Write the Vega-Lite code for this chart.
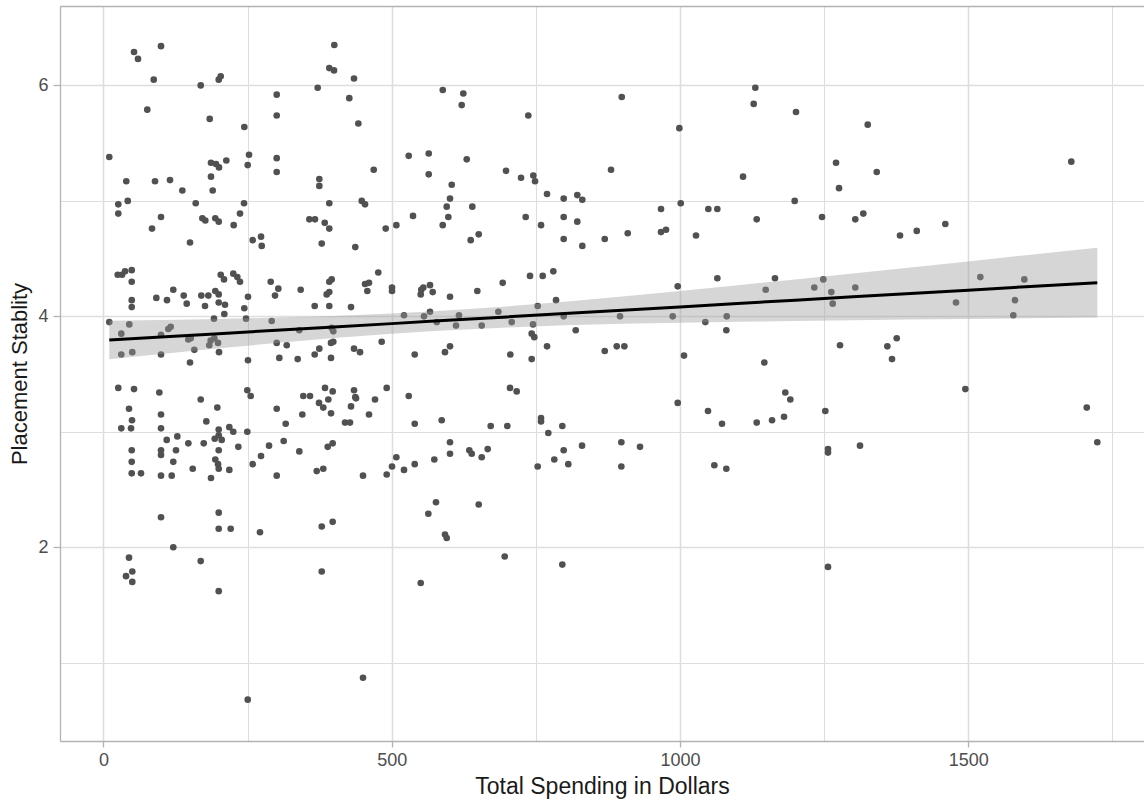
{
  "$schema": "https://vega.github.io/schema/vega-lite/v6.json",
  "width": 1084,
  "height": 735,
  "autosize": {"type": "none"},
  "padding": {"left": 60, "top": 6, "right": 0, "bottom": 65},
  "background": "white",
  "config": {
    "view": {"stroke": null},
    "font": "Liberation Sans"
  },
  "resolve": {"axis": {"x": "independent"}},
  "datasets": {
    "pts": [
      {"spending":53.1,"stability":6.29},{"spending":60.0,"stability":6.23},{"spending":99.9,"stability":6.34},{"spending":87.3,"stability":6.05},{"spending":168.8,"stability":6.00},{"spending":200.0,"stability":6.05},{"spending":203.5,"stability":6.08},{"spending":76.1,"stability":5.79},{"spending":184.4,"stability":5.71},{"spending":244.4,"stability":5.64},{"spending":10.2,"stability":5.38},{"spending":39.7,"stability":5.17},{"spending":89.5,"stability":5.17},{"spending":115.5,"stability":5.18},{"spending":136.9,"stability":5.09},{"spending":186.6,"stability":5.33},{"spending":195.3,"stability":5.32},{"spending":200.5,"stability":5.29},{"spending":213.2,"stability":5.35},{"spending":186.6,"stability":5.21},{"spending":189.6,"stability":5.09},{"spending":252.6,"stability":5.40},{"spending":250.3,"stability":5.31},{"spending":25.8,"stability":4.97},{"spending":25.8,"stability":4.89},{"spending":42.2,"stability":5.00},{"spending":99.9,"stability":4.86},{"spending":84.3,"stability":4.76},{"spending":160.1,"stability":4.98},{"spending":171.6,"stability":4.85},{"spending":176.8,"stability":4.83},{"spending":194.1,"stability":4.85},{"spending":200.0,"stability":4.82},{"spending":226.0,"stability":4.79},{"spending":236.9,"stability":4.89},{"spending":243.9,"stability":4.98},{"spending":150.2,"stability":4.64},{"spending":24.8,"stability":4.36},{"spending":32.3,"stability":4.36},{"spending":37.5,"stability":4.39},{"spending":49.1,"stability":4.40},{"spending":49.1,"stability":4.30},{"spending":203.5,"stability":4.36},{"spending":209.2,"stability":4.32},{"spending":225.3,"stability":4.37},{"spending":232.3,"stability":4.34},{"spending":236.9,"stability":4.30},{"spending":250.8,"stability":4.17},{"spending":49.1,"stability":4.14},{"spending":49.1,"stability":4.08},{"spending":91.8,"stability":4.16},{"spending":110.3,"stability":4.14},{"spending":121.2,"stability":4.23},{"spending":139.3,"stability":4.18},{"spending":144.5,"stability":4.11},{"spending":169.8,"stability":4.18},{"spending":182.0,"stability":4.18},{"spending":176.2,"stability":4.09},{"spending":194.1,"stability":4.22},{"spending":200.0,"stability":4.19},{"spending":200.0,"stability":4.12},{"spending":210.9,"stability":4.10},{"spending":209.7,"stability":4.02},{"spending":191.8,"stability":3.98},{"spending":244.4,"stability":4.07},{"spending":247.4,"stability":3.98},{"spending":10.2,"stability":3.95},{"spending":44.9,"stability":3.93},{"spending":31.0,"stability":3.85},{"spending":99.9,"stability":3.84},{"spending":112.6,"stability":3.89},{"spending":116.7,"stability":3.91},{"spending":147.3,"stability":3.80},{"spending":151.4,"stability":3.81},{"spending":186.1,"stability":3.79},{"spending":192.4,"stability":3.81},{"spending":198.8,"stability":3.77},{"spending":183.7,"stability":3.75},{"spending":31.0,"stability":3.67},{"spending":50.1,"stability":3.69},{"spending":99.9,"stability":3.67},{"spending":157.7,"stability":3.71},{"spending":200.5,"stability":3.69},{"spending":150.2,"stability":3.60},{"spending":250.8,"stability":3.62},
      {"spending":25.8,"stability":3.38},{"spending":53.1,"stability":3.37},{"spending":97.0,"stability":3.34},{"spending":168.8,"stability":3.28},{"spending":197.6,"stability":3.21},{"spending":249.6,"stability":3.36},{"spending":255.5,"stability":3.31},{"spending":44.4,"stability":3.20},{"spending":49.6,"stability":3.10},{"spending":47.9,"stability":3.03},{"spending":31.0,"stability":3.03},{"spending":99.9,"stability":3.15},{"spending":99.9,"stability":3.03},{"spending":178.5,"stability":3.09},{"spending":109.8,"stability":2.93},{"spending":128.2,"stability":2.96},{"spending":147.3,"stability":2.90},{"spending":174.0,"stability":2.90},{"spending":200.0,"stability":3.02},{"spending":200.0,"stability":2.97},{"spending":193.1,"stability":2.94},{"spending":205.2,"stability":2.93},{"spending":200.0,"stability":2.84},{"spending":194.1,"stability":2.76},{"spending":198.8,"stability":2.72},{"spending":200.0,"stability":2.68},{"spending":218.4,"stability":3.04},{"spending":225.3,"stability":3.00},{"spending":249.6,"stability":3.00},{"spending":234.0,"stability":2.87},{"spending":218.4,"stability":2.67},{"spending":49.1,"stability":2.84},{"spending":49.1,"stability":2.74},{"spending":49.1,"stability":2.64},{"spending":65.2,"stability":2.64},{"spending":99.9,"stability":2.84},{"spending":99.9,"stability":2.80},{"spending":125.9,"stability":2.84},{"spending":121.2,"stability":2.74},{"spending":99.9,"stability":2.62},{"spending":118.5,"stability":2.62},{"spending":154.9,"stability":2.68},{"spending":186.6,"stability":2.60},{"spending":259.0,"stability":2.72},{"spending":99.9,"stability":2.26},{"spending":200.0,"stability":2.30},{"spending":200.0,"stability":2.16},{"spending":220.8,"stability":2.16},{"spending":121.2,"stability":2.00},{"spending":44.4,"stability":1.91},{"spending":50.1,"stability":1.79},{"spending":39.2,"stability":1.75},{"spending":50.1,"stability":1.70},{"spending":168.8,"stability":1.88},{"spending":200.0,"stability":1.62},{"spending":250.3,"stability":0.68},
      {"spending":400.5,"stability":6.35},{"spending":391.8,"stability":6.15},{"spending":400.0,"stability":6.13},{"spending":434.7,"stability":6.06},{"spending":371.7,"stability":5.98},{"spending":300.6,"stability":5.92},{"spending":426.5,"stability":5.89},{"spending":300.6,"stability":5.74},{"spending":442.2,"stability":5.67},{"spending":300.6,"stability":5.37},{"spending":300.6,"stability":5.25},{"spending":529.6,"stability":5.39},{"spending":564.3,"stability":5.41},{"spending":564.3,"stability":5.23},{"spending":468.9,"stability":5.27},{"spending":374.5,"stability":5.19},{"spending":374.5,"stability":5.13},{"spending":391.8,"stability":4.98},{"spending":448.1,"stability":5.00},{"spending":453.8,"stability":4.97},{"spending":357.2,"stability":4.84},{"spending":367.0,"stability":4.84},{"spending":383.9,"stability":4.81},{"spending":391.8,"stability":4.76},{"spending":378.7,"stability":4.63},{"spending":436.9,"stability":4.60},{"spending":489.7,"stability":4.76},{"spending":508.1,"stability":4.79},{"spending":537.0,"stability":4.87},{"spending":259.0,"stability":4.66},{"spending":273.4,"stability":4.69},{"spending":274.6,"stability":4.61},{"spending":476.8,"stability":4.38},{"spending":290.2,"stability":4.30},{"spending":303.4,"stability":4.24},{"spending":297.7,"stability":4.18},{"spending":342.2,"stability":4.23},{"spending":391.8,"stability":4.30},{"spending":396.0,"stability":4.32},{"spending":391.8,"stability":4.21},{"spending":387.3,"stability":4.19},{"spending":366.5,"stability":4.09},{"spending":391.8,"stability":4.09},{"spending":429.5,"stability":4.08},{"spending":453.8,"stability":4.28},{"spending":460.7,"stability":4.29},{"spending":457.8,"stability":4.22},{"spending":500.6,"stability":4.25},{"spending":500.6,"stability":4.22},{"spending":551.4,"stability":4.23},{"spending":554.9,"stability":4.25},{"spending":566.5,"stability":4.27},{"spending":571.2,"stability":4.21},{"spending":550.4,"stability":4.19},{"spending":291.9,"stability":3.96},{"spending":339.8,"stability":3.88},{"spending":396.0,"stability":3.90},{"spending":398.8,"stability":3.87},{"spending":521.4,"stability":4.01},{"spending":556.1,"stability":4.00},{"spending":566.5,"stability":4.04},{"spending":578.2,"stability":3.95},{"spending":300.6,"stability":3.77},{"spending":318.0,"stability":3.75},{"spending":398.8,"stability":3.78},{"spending":394.8,"stability":3.77},{"spending":374.5,"stability":3.72},{"spending":366.5,"stability":3.67},{"spending":434.7,"stability":3.72},{"spending":445.1,"stability":3.69},{"spending":482.7,"stability":3.78},{"spending":305.1,"stability":3.64},{"spending":337.0,"stability":3.63},{"spending":394.8,"stability":3.64},{"spending":540.0,"stability":3.67},
      {"spending":384.4,"stability":3.38},{"spending":397.7,"stability":3.35},{"spending":346.7,"stability":3.31},{"spending":358.4,"stability":3.31},{"spending":374.0,"stability":3.25},{"spending":381.4,"stability":3.21},{"spending":390.1,"stability":3.28},{"spending":394.8,"stability":3.16},{"spending":345.0,"stability":3.15},{"spending":300.6,"stability":3.20},{"spending":316.2,"stability":3.07},{"spending":434.7,"stability":3.36},{"spending":436.9,"stability":3.30},{"spending":438.2,"stability":3.29},{"spending":429.5,"stability":3.22},{"spending":419.1,"stability":3.08},{"spending":427.7,"stability":3.08},{"spending":460.7,"stability":3.15},{"spending":471.1,"stability":3.28},{"spending":491.4,"stability":3.38},{"spending":529.6,"stability":3.31},{"spending":540.0,"stability":3.07},{"spending":287.3,"stability":2.88},{"spending":273.4,"stability":2.79},{"spending":312.7,"stability":2.92},{"spending":339.8,"stability":2.83},{"spending":389.1,"stability":2.87},{"spending":397.7,"stability":2.90},{"spending":300.6,"stability":2.62},{"spending":370.0,"stability":2.66},{"spending":381.4,"stability":2.68},{"spending":450.3,"stability":2.62},{"spending":491.4,"stability":2.63},{"spending":500.6,"stability":2.70},{"spending":508.1,"stability":2.78},{"spending":521.4,"stability":2.67},{"spending":540.0,"stability":2.72},{"spending":574.0,"stability":2.76},{"spending":576.9,"stability":2.39},{"spending":563.6,"stability":2.29},{"spending":271.6,"stability":2.13},{"spending":378.7,"stability":2.18},{"spending":397.7,"stability":2.22},{"spending":378.7,"stability":1.79},{"spending":550.4,"stability":1.69},{"spending":450.3,"stability":0.87},
      {"spending":588.6,"stability":5.96},{"spending":624.3,"stability":5.93},{"spending":621.5,"stability":5.83},{"spending":737.0,"stability":5.74},{"spending":899.1,"stability":5.90},{"spending":630.2,"stability":5.36},{"spending":698.4,"stability":5.26},{"spending":724.4,"stability":5.20},{"spending":745.7,"stability":5.22},{"spending":748.7,"stability":5.17},{"spending":880.5,"stability":5.27},{"spending":604.2,"stability":5.14},{"spending":601.2,"stability":5.02},{"spending":595.5,"stability":4.95},{"spending":598.3,"stability":4.86},{"spending":588.6,"stability":4.79},{"spending":639.9,"stability":4.95},{"spending":637.1,"stability":4.66},{"spending":651.0,"stability":4.71},{"spending":732.5,"stability":4.86},{"spending":759.1,"stability":4.79},{"spending":769.5,"stability":5.06},{"spending":798.4,"stability":5.02},{"spending":822.0,"stability":5.05},{"spending":830.7,"stability":5.01},{"spending":798.4,"stability":4.86},{"spending":822.0,"stability":4.82},{"spending":798.4,"stability":4.67},{"spending":830.7,"stability":4.61},{"spending":869.6,"stability":4.67},{"spending":909.5,"stability":4.72},{"spending":601.2,"stability":4.17},{"spending":648.6,"stability":4.22},{"spending":692.6,"stability":4.29},{"spending":740.0,"stability":4.35},{"spending":762.0,"stability":4.35},{"spending":780.4,"stability":4.39},{"spending":785.1,"stability":4.14},{"spending":753.3,"stability":4.09},{"spending":616.8,"stability":4.01},{"spending":611.6,"stability":3.92},{"spending":656.2,"stability":3.92},{"spending":685.0,"stability":4.04},{"spending":708.2,"stability":3.95},{"spending":745.2,"stability":3.93},{"spending":798.4,"stability":4.00},{"spending":896.1,"stability":4.00},{"spending":819.3,"stability":3.88},{"spending":742.9,"stability":3.85},{"spending":747.4,"stability":3.82},{"spending":592.5,"stability":3.69},{"spending":601.2,"stability":3.74},{"spending":705.8,"stability":3.67},{"spending":769.5,"stability":3.74},{"spending":742.9,"stability":3.63},{"spending":869.6,"stability":3.70},{"spending":890.4,"stability":3.74},{"spending":903.6,"stability":3.74},
      {"spending":705.3,"stability":3.38},{"spending":716.9,"stability":3.35},{"spending":586.8,"stability":3.10},{"spending":671.8,"stability":3.05},{"spending":700.6,"stability":3.05},{"spending":759.1,"stability":3.12},{"spending":759.1,"stability":3.09},{"spending":796.0,"stability":3.05},{"spending":771.7,"stability":2.99},{"spending":601.2,"stability":2.91},{"spending":601.2,"stability":2.81},{"spending":634.7,"stability":2.84},{"spending":638.9,"stability":2.81},{"spending":666.6,"stability":2.85},{"spending":656.2,"stability":2.78},{"spending":753.3,"stability":2.70},{"spending":782.1,"stability":2.76},{"spending":798.4,"stability":2.84},{"spending":806.4,"stability":2.72},{"spending":830.2,"stability":2.88},{"spending":898.4,"stability":2.91},{"spending":898.4,"stability":2.70},{"spending":651.0,"stability":2.37},{"spending":592.5,"stability":2.11},{"spending":595.5,"stability":2.08},{"spending":696.1,"stability":1.92},{"spending":796.0,"stability":1.85},
      {"spending":1130.8,"stability":5.98},{"spending":1128.0,"stability":5.84},{"spending":999.0,"stability":5.63},{"spending":1201.4,"stability":5.77},{"spending":1325.8,"stability":5.66},{"spending":1270.8,"stability":5.33},{"spending":1276.0,"stability":5.11},{"spending":1341.4,"stability":5.25},{"spending":1109.5,"stability":5.21},{"spending":967.2,"stability":4.93},{"spending":1001.4,"stability":4.98},{"spending":1049.3,"stability":4.93},{"spending":1064.9,"stability":4.93},{"spending":967.2,"stability":4.73},{"spending":975.9,"stability":4.75},{"spending":1027.9,"stability":4.70},{"spending":1133.2,"stability":4.84},{"spending":1199.1,"stability":5.00},{"spending":1246.5,"stability":4.86},{"spending":1304.2,"stability":4.84},{"spending":1318.1,"stability":4.89},{"spending":996.2,"stability":4.26},{"spending":1064.9,"stability":4.33},{"spending":1148.8,"stability":4.23},{"spending":1164.9,"stability":4.33},{"spending":1233.1,"stability":4.25},{"spending":1248.7,"stability":4.32},{"spending":1262.6,"stability":4.21},{"spending":1265.0,"stability":4.11},{"spending":1304.2,"stability":4.25},{"spending":987.5,"stability":4.00},{"spending":1044.1,"stability":3.95},{"spending":1081.2,"stability":4.00},{"spending":1080.5,"stability":3.88},{"spending":1007.1,"stability":3.66},{"spending":1146.4,"stability":3.60},{"spending":1277.7,"stability":3.75},
      {"spending":996.2,"stability":3.25},{"spending":1048.7,"stability":3.18},{"spending":1073.0,"stability":3.07},{"spending":1133.2,"stability":3.08},{"spending":1159.8,"stability":3.10},{"spending":1180.6,"stability":3.13},{"spending":1182.8,"stability":3.34},{"spending":1191.5,"stability":3.28},{"spending":1252.2,"stability":3.18},{"spending":930.8,"stability":2.87},{"spending":1059.7,"stability":2.71},{"spending":1080.5,"stability":2.68},{"spending":1256.9,"stability":2.85},{"spending":1256.9,"stability":2.82},{"spending":1312.4,"stability":2.88},{"spending":1256.9,"stability":1.83},
      {"spending":1678.9,"stability":5.34},{"spending":1381.8,"stability":4.70},{"spending":1410.8,"stability":4.74},{"spending":1460.4,"stability":4.80},{"spending":1521.1,"stability":4.34},{"spending":1597.4,"stability":4.32},{"spending":1478.9,"stability":4.12},{"spending":1581.3,"stability":4.14},{"spending":1578.3,"stability":4.01},{"spending":1376.1,"stability":3.81},{"spending":1359.8,"stability":3.74},{"spending":1367.9,"stability":3.63},
      {"spending":1495.1,"stability":3.37},{"spending":1705.7,"stability":3.21},{"spending":1724.0,"stability":2.91}
    ],
    "fit": [
      {"spending":10.2,"fit":3.795,"lower":3.629,"upper":3.961},
      {"spending":100,"fit":3.821,"lower":3.674,"upper":3.968},
      {"spending":200,"fit":3.850,"lower":3.723,"upper":3.977},
      {"spending":300,"fit":3.879,"lower":3.769,"upper":3.989},
      {"spending":400,"fit":3.908,"lower":3.812,"upper":4.004},
      {"spending":500,"fit":3.937,"lower":3.850,"upper":4.024},
      {"spending":574,"fit":3.959,"lower":3.874,"upper":4.044},
      {"spending":700,"fit":3.995,"lower":3.904,"upper":4.086},
      {"spending":800,"fit":4.024,"lower":3.922,"upper":4.126},
      {"spending":900,"fit":4.053,"lower":3.935,"upper":4.171},
      {"spending":1000,"fit":4.082,"lower":3.945,"upper":4.219},
      {"spending":1100,"fit":4.111,"lower":3.953,"upper":4.269},
      {"spending":1200,"fit":4.140,"lower":3.960,"upper":4.320},
      {"spending":1300,"fit":4.169,"lower":3.967,"upper":4.371},
      {"spending":1400,"fit":4.198,"lower":3.973,"upper":4.424},
      {"spending":1500,"fit":4.227,"lower":3.978,"upper":4.476},
      {"spending":1600,"fit":4.256,"lower":3.983,"upper":4.529},
      {"spending":1724,"fit":4.292,"lower":3.989,"upper":4.595}
    ]
  },
  "layer": [
    {
      "data": {"name": "pts"},
      "mark": {"type": "circle", "size": 44, "color": "#515151", "opacity": 1, "clip": true},
      "encoding": {
        "x": {
          "field": "spending",
          "type": "quantitative",
          "title": "Total Spending in Dollars",
          "scale": {"domain": [-75.3, 1805], "nice": false, "zero": false},
          "axis": {
            "orient": "bottom",
            "values": [0, 250, 500, 750, 1000, 1250, 1500, 1750],
            "format": "d",
            "labelExpr": "datum.value % 500 === 0 ? datum.label : ''",
            "labelOverlap": false,
            "labelFlush": false,
            "domain": true,
            "domainColor": "#B3B3B3",
            "domainWidth": 1.3,
            "grid": true,
            "gridColor": "#DEDEDE",
            "gridWidth": {"condition": {"test": "datum.value % 500 === 0", "value": 1.6}, "value": 1.1},
            "tickColor": "#B3B3B3",
            "tickWidth": 1.3,
            "tickSize": 6,
            "tickOpacity": {"condition": {"test": "datum.value % 500 !== 0", "value": 0}, "value": 1},
            "labelFont": "Liberation Sans",
            "labelFontSize": 18,
            "labelColor": "#4D4D4D",
            "labelPadding": 4,
            "titleFont": "Liberation Sans",
            "titleFontSize": 23,
            "titleFontWeight": "normal",
            "titleColor": "#1A1A1A",
            "titlePadding": 6
          }
        },
        "y": {
          "field": "stability",
          "type": "quantitative",
          "title": "Placement Stablity",
          "scale": {"domain": [0.322, 6.688], "nice": false, "zero": false},
          "axis": {
            "values": [1, 2, 3, 4, 5, 6],
            "format": "d",
            "labelExpr": "datum.value % 2 === 0 ? datum.label : ''",
            "labelOverlap": false,
            "labelFlush": false,
            "domain": true,
            "domainColor": "#B3B3B3",
            "domainWidth": 1.3,
            "grid": true,
            "gridColor": "#DEDEDE",
            "gridWidth": {"condition": {"test": "datum.value % 2 === 0", "value": 1.6}, "value": 1.1},
            "tickColor": "#B3B3B3",
            "tickWidth": 1.3,
            "tickSize": 7,
            "tickOpacity": {"condition": {"test": "datum.value % 2 !== 0", "value": 0}, "value": 1},
            "labelFont": "Liberation Sans",
            "labelFontSize": 18,
            "labelColor": "#4D4D4D",
            "labelPadding": 5,
            "titleFont": "Liberation Sans",
            "titleFontSize": 22,
            "titleFontWeight": "normal",
            "titleColor": "#1A1A1A",
            "titlePadding": 6
          }
        }
      }
    },
    {
      "data": {"name": "fit"},
      "mark": {"type": "area", "color": "#999999", "opacity": 0.4, "clip": true},
      "encoding": {
        "x": {"field": "spending", "type": "quantitative", "scale": {"domain": [-75.3, 1805], "nice": false, "zero": false}, "axis": null},
        "y": {"field": "lower", "type": "quantitative", "title": "Placement Stablity", "scale": {"domain": [0.322, 6.688], "nice": false, "zero": false}},
        "y2": {"field": "upper"}
      }
    },
    {
      "data": {"name": "fit"},
      "mark": {"type": "line", "color": "#000000", "strokeWidth": 3, "clip": true},
      "encoding": {
        "x": {
          "field": "spending",
          "type": "quantitative",
          "title": null,
          "scale": {"domain": [-75.3, 1805], "nice": false, "zero": false},
          "axis": {"orient": "top", "labels": false, "ticks": false, "grid": false, "domain": true, "domainColor": "#B3B3B3", "domainWidth": 1.3, "title": null}
        },
        "y": {"field": "fit", "type": "quantitative", "title": "Placement Stablity", "scale": {"domain": [0.322, 6.688], "nice": false, "zero": false}}
      }
    }
  ]
}
